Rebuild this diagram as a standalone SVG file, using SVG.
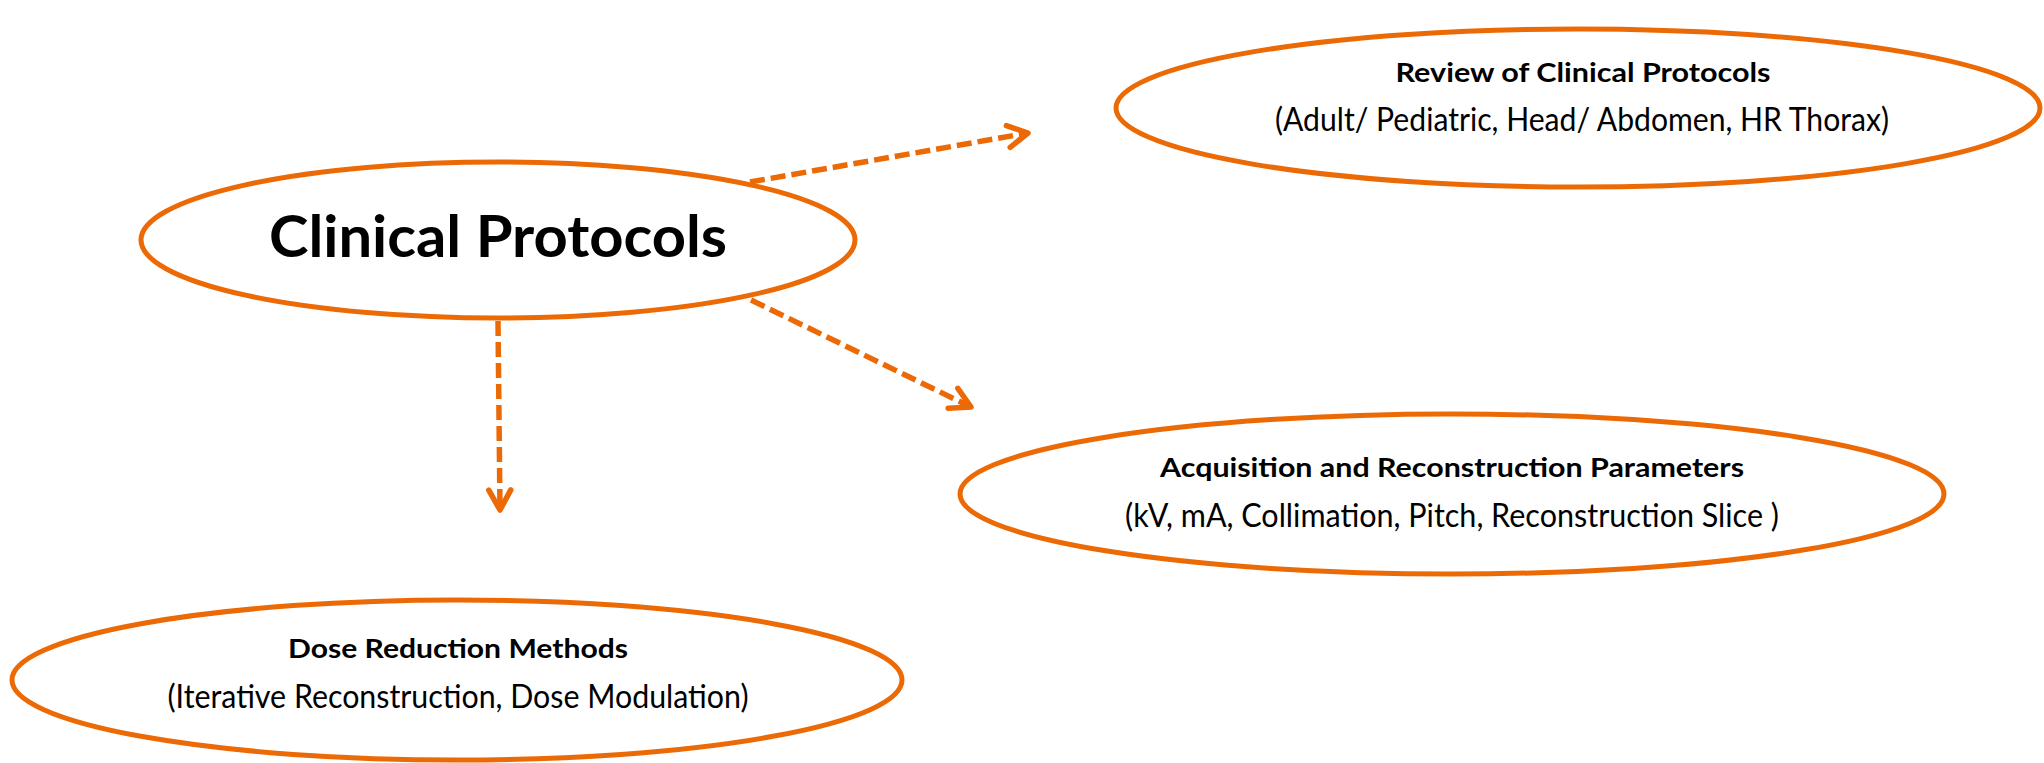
<svg xmlns="http://www.w3.org/2000/svg" width="2044" height="763" viewBox="0 0 2044 763">
  <style>
    .node { fill: #ffffff; stroke: #EC6A06; stroke-width: 5; }
    .conn { fill: none; stroke: #EC6A06; stroke-width: 5.5; stroke-dasharray: 15 6; }
    .title { font-family: Lato, "Liberation Sans", sans-serif; font-weight: bold; fill: #000000; text-anchor: middle; }
    .sub { font-family: Lato, "Liberation Sans", sans-serif; fill: #000000; text-anchor: middle; }
  </style>
  <defs>
    <marker id="arrow" markerUnits="userSpaceOnUse" viewBox="-26 -16 32 32" refX="0" refY="0" markerWidth="32" markerHeight="32" orient="auto">
      <path d="M -20 -11 L 0 0 L -20 11" fill="none" stroke="#EC6A06" stroke-width="5.5" stroke-linecap="round" stroke-linejoin="round"/>
    </marker>
  </defs>
  <rect width="2044" height="763" fill="#ffffff"/>

  <g id="connectors">
    <line class="conn" x1="750" y1="182" x2="1028" y2="133" marker-end="url(#arrow)"/>
    <line class="conn" x1="498" y1="321" x2="500" y2="510" marker-end="url(#arrow)"/>
    <line class="conn" x1="751" y1="300" x2="971" y2="407" marker-end="url(#arrow)"/>
  </g>

  <g id="node-clinical-protocols">
    <ellipse class="node" cx="498" cy="240" rx="357" ry="78"/>
    <text class="title" x="498" y="257" font-size="58" textLength="458" lengthAdjust="spacingAndGlyphs">Clinical Protocols</text>
  </g>

  <g id="node-review">
    <ellipse class="node" cx="1578" cy="108" rx="462" ry="79"/>
    <text class="title" x="1583" y="82" font-size="27" textLength="375" lengthAdjust="spacingAndGlyphs">Review of Clinical Protocols</text>
    <text class="sub" x="1582" y="131" font-size="33" textLength="614" lengthAdjust="spacingAndGlyphs">(Adult/ Pediatric, Head/ Abdomen, HR Thorax)</text>
  </g>

  <g id="node-acquisition">
    <ellipse class="node" cx="1452" cy="494" rx="492" ry="80"/>
    <text class="title" x="1452" y="477" font-size="27" textLength="584" lengthAdjust="spacingAndGlyphs">Acquisition and Reconstruction Parameters</text>
    <text class="sub" x="1452" y="527" font-size="33" textLength="654" lengthAdjust="spacingAndGlyphs">(kV, mA, Collimation, Pitch, Reconstruction Slice )</text>
  </g>

  <g id="node-dose">
    <ellipse class="node" cx="457" cy="680" rx="445" ry="80"/>
    <text class="title" x="458" y="658" font-size="27" textLength="340" lengthAdjust="spacingAndGlyphs">Dose Reduction Methods</text>
    <text class="sub" x="458" y="708" font-size="33" textLength="581" lengthAdjust="spacingAndGlyphs">(Iterative Reconstruction, Dose Modulation)</text>
  </g>
</svg>
